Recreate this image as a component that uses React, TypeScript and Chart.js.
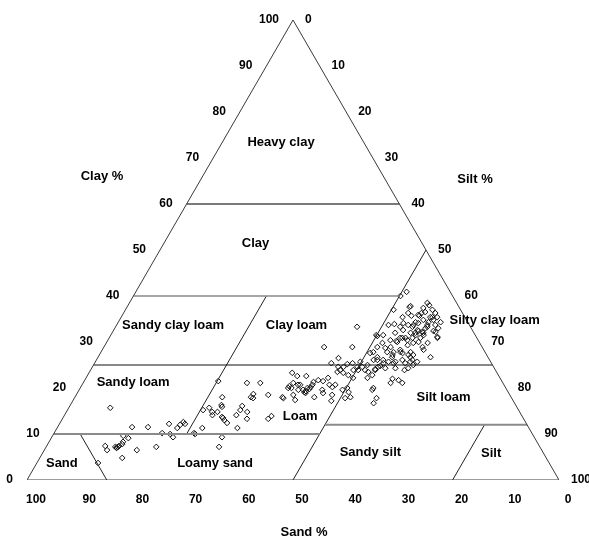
import React, { useEffect, useRef } from "react";
import { Chart, registerables } from "chart.js";

Chart.register(...registerables);

// ---- Data (ternary %) ----
const CLAY: number[] = [
  3.7, 15.7, 7.4, 6.5, 7.2, 7.0, 7.0, 7.2, 7.4, 7.8, 8.3, 4.8, 9.6, 9.1, 11.5, 6.5, 11.5, 7.2, 10.2, 12.2,
  10.0, 9.3, 11.3, 12.0, 12.6, 12.2, 10.2, 10.0, 11.3, 15.2, 15.7, 14.8, 14.1, 14.8, 21.5, 18.0, 16.3, 15.9,
  13.7, 13.5, 13.0, 12.4, 14.1, 15.2, 16.1, 11.3, 9.3, 7.2, 21.1, 21.1, 18.0, 18.7, 17.8, 18.5, 14.8, 13.3,
  13.3, 13.9, 18.0, 17.8, 20.4, 20.0, 20.0, 23.3, 22.6, 18.5, 20.7, 19.6, 33.3, 28.9, 28.9, 31.3, 28.9, 25.4,
  24.6, 25.2, 25.4, 22.6, 21.1, 20.7, 19.6, 19.1, 18.9, 19.3, 20.0, 19.8, 20.2, 20.7, 21.3, 21.7, 21.5, 22.2,
  20.7, 20.2, 20.7, 17.4, 18.0, 19.6, 18.9, 18.5, 17.2, 19.6, 20.0, 19.1, 17.8, 18.0, 23.5, 23.9, 23.3, 22.8,
  22.2, 23.9, 24.6, 23.9, 24.6, 23.9, 23.5, 22.2, 22.8, 23.9, 26.1, 20.0, 17.8, 16.7, 27.6, 25.7, 25.0, 24.6,
  26.5, 24.6, 19.6, 40.9, 40.0, 37.0, 37.8, 38.5, 38.0, 37.4, 36.5, 37.0, 36.3, 35.4, 35.4, 34.8, 34.3, 33.7,
  34.8, 35.7, 35.7, 35.4, 34.1, 33.7, 31.5, 31.5, 32.0, 32.6, 33.3, 32.6, 32.2, 33.0, 31.5, 30.9, 31.5, 30.9,
  30.4, 30.9, 30.0, 29.3, 29.8, 30.0, 28.9, 29.8, 30.9, 32.2, 33.0, 26.7, 29.8, 28.7, 28.9, 27.8, 28.3, 27.6,
  27.8, 27.2, 26.1, 25.7, 25.7, 25.4, 25.4, 24.3, 26.7, 26.1, 26.7, 26.1, 24.8, 24.1, 24.3, 26.7, 27.8, 24.3,
  22.0, 21.1, 21.7, 21.1, 23.9, 34.3, 33.7, 32.4, 34.1, 33.7, 33.7, 33.3, 33.9, 36.3, 36.3, 35.9, 34.3, 37.6,
  30.4, 30.2, 30.9, 30.9, 32.0, 32.0, 32.4, 32.0, 33.3, 35.4, 31.1, 28.3, 27.8, 27.2, 25.7, 25.7, 25.4, 27.8,
  26.1, 25.0, 27.2,
];

const SILT: number[] = [
  11.5, 7.8, 11.0, 11.8, 13.0, 13.3, 13.4, 13.5, 13.6, 14.0, 13.9, 15.5, 13.3, 14.5, 14.0, 17.4, 17.0, 20.7, 20.3, 20.6,
  21.9, 22.8, 22.6, 22.8, 23.1, 23.6, 26.3, 26.6, 27.3, 25.5, 26.4, 27.4, 27.8, 28.4, 25.2, 27.7, 28.4, 28.7,
  29.8, 30.1, 30.6, 31.4, 32.3, 32.5, 32.4, 33.9, 32.0, 32.5, 30.8, 33.3, 33.1, 33.2, 33.6, 36.1, 34.0, 34.7,
  38.7, 39.0, 39.0, 39.3, 39.1, 39.1, 39.7, 38.2, 39.5, 40.8, 40.6, 41.2, 45.4, 41.4, 46.7, 50.2, 51.4, 44.5,
  46.2, 47.6, 48.5, 41.2, 39.5, 41.0, 42.1, 42.6, 42.9, 42.8, 42.7, 43.2, 43.2, 43.3, 43.2, 43.9, 44.9, 45.5,
  46.5, 47.3, 47.6, 41.7, 45.0, 45.7, 46.2, 48.1, 48.6, 49.5, 50.2, 50.9, 50.9, 51.8, 46.6, 46.9, 47.8, 49.0,
  50.2, 49.4, 49.8, 50.3, 50.7, 51.6, 52.4, 52.9, 53.5, 53.5, 52.8, 55.1, 56.8, 56.8, 50.7, 49.8, 51.5, 53.7,
  45.3, 47.2, 55.1, 50.9, 50.2, 50.4, 53.2, 56.0, 56.6, 55.8, 56.6, 57.7, 58.6, 59.4, 58.1, 59.0, 58.3, 58.4,
  57.1, 55.9, 54.4, 52.9, 53.7, 51.1, 49.9, 51.2, 53.2, 54.4, 55.8, 57.1, 58.2, 58.4, 58.8, 58.5, 57.3, 57.0,
  56.3, 55.1, 54.6, 56.9, 57.7, 58.6, 59.9, 60.4, 61.7, 60.7, 60.8, 62.5, 51.9, 53.0, 53.9, 55.0, 56.0, 56.8,
  58.2, 59.0, 59.4, 59.2, 60.5, 58.4, 56.2, 57.1, 55.3, 53.9, 52.5, 52.1, 54.0, 53.4, 59.5, 58.7, 51.2, 55.2,
  57.7, 57.8, 59.0, 60.0, 59.0, 60.6, 59.9, 60.2, 56.5, 54.8, 55.8, 53.5, 52.1, 56.0, 53.5, 55.6, 55.9, 53.1,
  53.1, 54.3, 54.7, 55.7, 56.1, 57.0, 57.4, 58.5, 58.6, 58.5, 61.6, 60.4, 53.8, 55.1, 56.4, 55.1, 54.3, 56.3,
  57.5, 60.1, 58.1,
];

// Axis tick labels
const CLAY_TICKS: number[] = [0, 10, 20, 30, 40, 50, 60, 70, 80, 90, 100];
const SILT_TICKS: number[] = [0, 10, 20, 30, 40, 50, 60, 70, 80, 90, 100];
const SAND_TICKS: number[] = [100, 90, 80, 70, 60, 50, 40, 30, 20, 10, 0];
const AXIS_TITLES: string[] = ["Clay %", "Silt %", "Sand %"];

// Texture classes
const REGION_NAMES: string[] = [
  "Heavy clay", "Clay", "Sandy clay loam", "Clay loam", "Silty clay loam", "Sandy loam",
  "Loam", "Silt loam", "Sand", "Loamy sand", "Sandy silt", "Silt",
];

// Class boundaries: [clay start, silt start, clay end, silt end]
const BOUNDARY_CLAY_60 = [60, 0, 60, 40];
const BOUNDARY_CLAY_40 = [40, 0, 40, 50];
const BOUNDARY_CLAY_25 = [25, 0, 25, 75];
const BOUNDARY_CLAY_10 = [10, 0, 10, 50];
const BOUNDARY_CLAY_12 = [12, 50, 12, 88];
const BOUNDARY_SILT_50 = [0, 50, 50, 50];
const BOUNDARY_SILT_25 = [40, 25, 10, 25];
const BOUNDARY_SAND_85 = [0, 15, 10, 5];
const BOUNDARY_SILT_80 = [0, 80, 12, 80];

const SQ3 = Math.sqrt(3) / 2;
const toXY = (clay: number, silt: number) => ({ x: silt + clay / 2, y: clay * SQ3 });

const FONT = '"Liberation Sans", Arial, Helvetica, sans-serif';

const textPlugin = {
  id: "ternaryText",
  afterDatasetsDraw(chart: any) {
    const { ctx, scales } = chart;
    const xs = scales.x;
    const ys = scales.y;
    const P = (c: number, s: number) => {
      const p = toXY(c, s);
      return [xs.getPixelForValue(p.x), ys.getPixelForValue(p.y)];
    };
    ctx.save();
    ctx.fillStyle = "#000";
    ctx.textBaseline = "middle";

    // ticks
    ctx.font = `bold 12px ${FONT}`;
    ctx.textAlign = "right";
    CLAY_TICKS.forEach((t) => {
      const [px, py] = P(t, 0);
      ctx.fillText(String(t), px - 14, py);
    });
    ctx.textAlign = "left";
    SILT_TICKS.forEach((t) => {
      const [px, py] = P(100 - t, t);
      ctx.fillText(String(t), px + 12, py);
    });
    ctx.textAlign = "center";
    SAND_TICKS.forEach((t) => {
      const [px, py] = P(0, 100 - t);
      ctx.fillText(String(t), px + 9, py + 20);
    });

    // axis titles
    ctx.font = `bold 13px ${FONT}`;
    ctx.fillText(AXIS_TITLES[0], 102, 176);
    ctx.fillText(AXIS_TITLES[1], 475, 179);
    ctx.fillText(AXIS_TITLES[2], 304, 532);

    // region labels, anchored at ternary positions (clay, silt)
    const anchors: [number, number][] = [
      [73.3, 11.1], [51.5, 17.2], [33.7, 10.6], [33.7, 33.8], [34.6, 70.6], [21.3, 9.3],
      [13.9, 44.4], [18.0, 69.3], [3.7, 4.7], [3.7, 33.5], [5.9, 61.6], [5.7, 84.4],
    ];
    REGION_NAMES.forEach((name, i) => {
      const [px, py] = P(anchors[i][0], anchors[i][1]);
      ctx.fillText(name, px, py);
    });
    ctx.restore();
  },
};

function lineDs(b: number[], color: string, width: number) {
  return {
    type: "scatter" as const,
    data: [toXY(b[0], b[1]), toXY(b[2], b[3])],
    showLine: true,
    borderColor: color,
    borderWidth: width,
    pointRadius: 0,
    fill: false,
  };
}

export default function App() {
  const ref = useRef<HTMLCanvasElement | null>(null);

  useEffect(() => {
    if (!ref.current) return;
    const outline = {
      type: "scatter" as const,
      data: [toXY(0, 0), toXY(0, 100), toXY(100, 0), toXY(0, 0)],
      showLine: true,
      borderColor: "#3a3a3a",
      borderWidth: 1,
      pointRadius: 0,
      fill: false,
    };
    const points = {
      type: "scatter" as const,
      data: CLAY.map((c, i) => toXY(c, SILT[i])),
      pointStyle: "rectRot",
      pointRadius: 2.8,
      borderWidth: 1,
      borderColor: "#111",
      backgroundColor: "rgba(255,255,255,0)",
      showLine: false,
    };
    const chart = new Chart(ref.current, {
      type: "scatter",
      data: {
        datasets: [
          outline,
          lineDs(BOUNDARY_CLAY_60, "#7a7a7a", 2),
          lineDs(BOUNDARY_CLAY_40, "#8a8a8a", 1.5),
          lineDs(BOUNDARY_CLAY_25, "#111", 1),
          lineDs(BOUNDARY_CLAY_10, "#8a8a8a", 2),
          lineDs(BOUNDARY_CLAY_12, "#8a8a8a", 2),
          lineDs(BOUNDARY_SILT_50, "#222", 1),
          lineDs(BOUNDARY_SILT_25, "#222", 1),
          lineDs(BOUNDARY_SAND_85, "#222", 1),
          lineDs(BOUNDARY_SILT_80, "#222", 1),
          points,
        ] as any,
      },
      options: {
        animation: false,
        responsive: false,
        devicePixelRatio: 1,
        layout: { padding: { left: 27, right: 30, top: 20, bottom: 60 } },
        scales: {
          x: { type: "linear", min: 0, max: 100, display: false },
          y: { type: "linear", min: 0, max: 100 * SQ3, display: false },
        },
        plugins: { legend: { display: false }, tooltip: { enabled: false } },
      },
      plugins: [textPlugin],
    });
    return () => chart.destroy();
  }, []);

  return (
    <div style={{ position: "absolute", left: 0, top: 0, width: 589, height: 540, background: "#fff" }}>
      <canvas ref={ref} width={589} height={540} style={{ width: 589, height: 540, display: "block" }} />
    </div>
  );
}
